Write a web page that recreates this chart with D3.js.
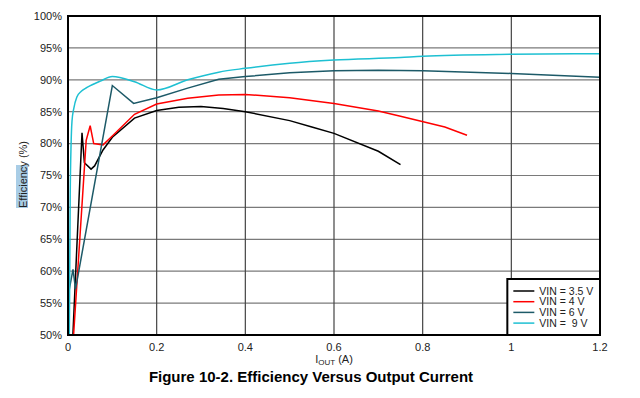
<!DOCTYPE html>
<html>
<head>
<meta charset="utf-8">
<script src="https://cdn.jsdelivr.net/npm/d3@7"></script>
<style>
  body { margin: 0; background: #fff; }
  text { font-family: 'Liberation Sans', Arial, sans-serif; }
</style>
</head>
<body>
<div id="chart"></div>
<script>
// values (IOUT in A, efficiency in %)
const series = ['VIN = 3.5 V', 'VIN = 4 V', 'VIN = 6 V', 'VIN =  9 V']
const colors = ['#000000', '#ff0000', '#1d5a68', '#1ec0d2']

const iout35 = [0.011, 0.0316, 0.037, 0.052, 0.06, 0.079, 0.1, 0.15, 0.2, 0.25, 0.3, 0.35, 0.4, 0.5, 0.55, 0.6, 0.7, 0.75]
const eff35 = [50, 81.7, 77.0, 76.0, 76.5, 79.0, 81.0, 84.0, 85.2, 85.7, 85.8, 85.5, 85.0, 83.6, 82.6, 81.6, 78.8, 76.7]

const iout4 = [0.0126, 0.041, 0.05, 0.058, 0.079, 0.1, 0.15, 0.2, 0.27, 0.34, 0.4, 0.5, 0.6, 0.7, 0.75, 0.85, 0.9]
const eff4 = [50, 80.5, 82.8, 80.0, 79.8, 81.2, 84.6, 86.2, 87.1, 87.6, 87.7, 87.2, 86.3, 85.1, 84.3, 82.6, 81.3]

const iout6 = [0.001, 0.0025, 0.0113, 0.017, 0.1, 0.148, 0.2, 0.27, 0.34, 0.4, 0.5, 0.6, 0.7, 0.8, 1.0, 1.2]
const eff6 = [50, 57.0, 60.3, 57.2, 89.1, 86.3, 87.2, 88.7, 90.1, 90.5, 91.1, 91.4, 91.5, 91.4, 91.0, 90.4]

const iout9 = [0.003, 0.005, 0.007, 0.009, 0.013, 0.02, 0.03, 0.043, 0.073, 0.1, 0.15, 0.2, 0.27, 0.34, 0.4, 0.5, 0.6, 0.75, 0.8, 1.0, 1.2]
const eff9 = [50, 72, 80, 83.5, 85.5, 87.3, 88.2, 88.8, 89.8, 90.5, 89.7, 88.4, 90.0, 91.2, 91.8, 92.6, 93.1, 93.5, 93.7, 94.0, 94.1]

const xTicks = [0, 0.2, 0.4, 0.6, 0.8, 1, 1.2]
const yTicks = [50, 55, 60, 65, 70, 75, 80, 85, 90, 95, 100]

const allX = [iout35, iout4, iout6, iout9]
const allY = [eff35, eff4, eff6, eff9]

const margin = { top: 16, right: 40, bottom: 63, left: 68 }
const width = 640 - margin.left - margin.right
const height = 398 - margin.top - margin.bottom

const root = d3.select('#chart')
  .append('svg')
  .attr('width', 640)
  .attr('height', 398)

const svg = root.append('g')
  .attr('transform', 'translate(' + margin.left + ',' + margin.top + ')')

const x = d3.scaleLinear().domain([0, 1.2]).range([0, width])
const y = d3.scaleLinear().domain([50, 100]).range([height, 0])

// grid
svg.selectAll('.hgrid')
  .data(yTicks)
  .enter()
  .append('line')
  .attr('x1', 0)
  .attr('x2', width)
  .attr('y1', d => y(d))
  .attr('y2', d => y(d))
  .attr('stroke', '#7a7a7a')
  .attr('stroke-width', 1.2)

svg.selectAll('.vgrid')
  .data(xTicks)
  .enter()
  .append('line')
  .attr('x1', d => x(d))
  .attr('x2', d => x(d))
  .attr('y1', 0)
  .attr('y2', height)
  .attr('stroke', '#444')
  .attr('stroke-width', 1.2)

// tick labels
svg.selectAll('.ylab')
  .data(yTicks)
  .enter()
  .append('text')
  .attr('x', -6)
  .attr('y', d => y(d))
  .attr('dy', '0.35em')
  .attr('text-anchor', 'end')
  .attr('font-size', 11)
  .attr('fill', '#222')
  .text(d => d + '%')

svg.selectAll('.xlab')
  .data(xTicks)
  .enter()
  .append('text')
  .attr('x', d => x(d))
  .attr('y', height + 16)
  .attr('text-anchor', 'middle')
  .attr('font-size', 11)
  .attr('fill', '#222')
  .text(d => d)

// curves - the 9 V one is smooth in the figure, the others keep their kinks
const line = d3.line()
  .x(d => x(d[0]))
  .y(d => y(d[1]))

const smooth = d3.line()
  .x(d => x(d[0]))
  .y(d => y(d[1]))
  .curve(d3.curveMonotoneX)

const clip = svg.append('clipPath').attr('id', 'clip')
clip.append('rect').attr('width', width).attr('height', height)

series.forEach((name, i) => {
  const pts = allX[i].map((v, j) => [v, allY[i][j]])
  svg.append('path')
    .datum(pts)
    .attr('d', i === 3 ? smooth : line)
    .attr('fill', 'none')
    .attr('stroke', colors[i])
    .attr('stroke-width', 1.5)
    .attr('clip-path', 'url(#clip)')
})

// frame
svg.append('rect')
  .attr('width', width)
  .attr('height', height)
  .attr('fill', 'none')
  .attr('stroke', '#000')
  .attr('stroke-width', 2)

// legend
const lg = svg.append('g')
  .attr('transform', 'translate(' + (x(1) - 4) + ',' + (height - 56) + ')')

lg.append('rect')
  .attr('width', width - x(1) + 4)
  .attr('height', 56)
  .attr('fill', '#fff')
  .attr('stroke', '#000')
  .attr('stroke-width', 2)

series.forEach((name, i) => {
  const ry = 12 + i * 10.7
  lg.append('line')
    .attr('x1', 6)
    .attr('x2', 27)
    .attr('y1', ry)
    .attr('y2', ry)
    .attr('stroke', colors[i])
    .attr('stroke-width', 1.5)
  lg.append('text')
    .attr('x', 32)
    .attr('y', ry)
    .attr('dy', '0.35em')
    .attr('font-size', 10.5)
    .attr('fill', '#222')
    .attr('xml:space', 'preserve')
    .style('white-space', 'pre')
    .text(name)
})

// axis titles
const xt = svg.append('text')
  .attr('x', x(0.6))
  .attr('y', height + 28)
  .attr('text-anchor', 'middle')
  .attr('font-size', 11)
  .attr('fill', '#222')
xt.append('tspan').text('I')
xt.append('tspan').attr('font-size', 8).attr('dy', 2).text('OUT')
xt.append('tspan').attr('dy', -2).text(' (A)')

const yt = root.append('g')
  .attr('transform', 'translate(24,176) rotate(-90)')
yt.append('rect')
  .attr('x', -32)
  .attr('y', -8)
  .attr('width', 43)
  .attr('height', 12)
  .attr('fill', '#a9cde6')
yt.append('text')
  .attr('x', -32)
  .attr('y', 0)
  .attr('dy', '0.3em')
  .attr('font-size', 11)
  .attr('fill', '#222')
  .text('Efficiency (%)')

// figure caption
root.append('text')
  .attr('x', 311)
  .attr('y', 382)
  .attr('text-anchor', 'middle')
  .attr('font-size', 15)
  .attr('font-weight', 'bold')
  .attr('fill', '#000')
  .text('Figure 10-2. Efficiency Versus Output Current')
</script>
</body>
</html>
